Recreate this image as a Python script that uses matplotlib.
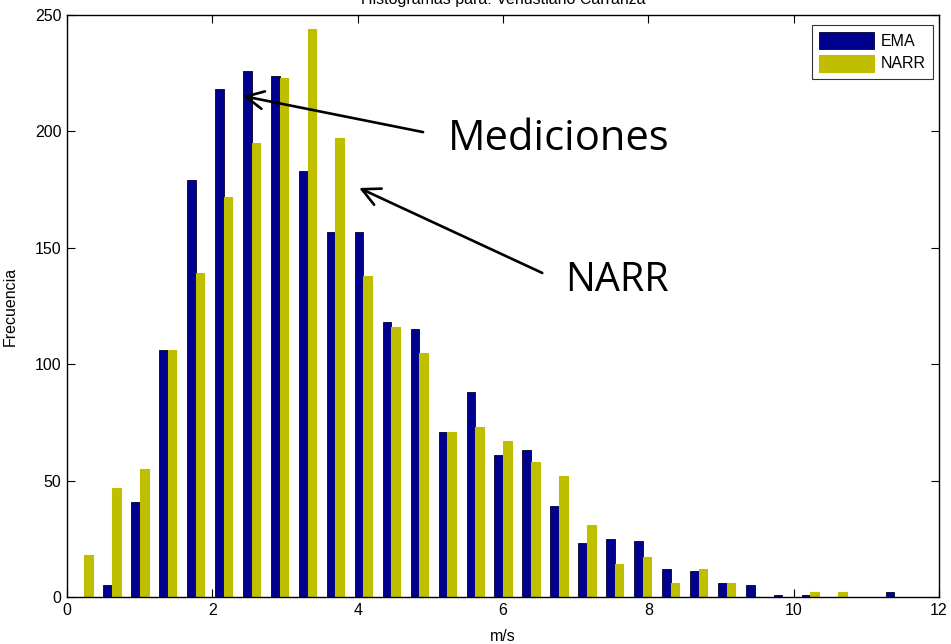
import matplotlib
matplotlib.use("Agg")
import matplotlib.pyplot as plt
import numpy as np

plt.rcParams['font.family'] = ['Liberation Sans', 'DejaVu Sans']

# Bin centres (m/s) of the 30-bin histogram
bin_centers = [0.234, 0.618, 1.003, 1.387, 1.772, 2.156, 2.541, 2.925, 3.310, 3.694,
               4.079, 4.463, 4.848, 5.232, 5.617, 6.001, 6.386, 6.770, 7.155, 7.539,
               7.924, 8.308, 8.693, 9.077, 9.462, 9.846, 10.231, 10.615, 11.000, 11.384]
ema = [0, 5, 41, 106, 179, 218, 226, 224, 183, 157,
       157, 118, 115, 71, 88, 61, 63, 39, 23, 25,
       24, 12, 11, 6, 5, 1, 1, 0, 0, 2]
narr = [18, 47, 55, 106, 139, 172, 195, 223, 244, 197,
        138, 116, 105, 71, 73, 67, 58, 52, 31, 14,
        17, 6, 12, 6, 0, 0, 2, 2, 0, 0]
series_names = ['EMA', 'NARR']
title = 'Histogramas para: Venustiano Carranza'
xlabel = 'm/s'
ylabel = 'Frecuencia'
xticks = [0, 2, 4, 6, 8, 10, 12]
yticks = [0, 50, 100, 150, 200, 250]

c_ema = '#00008F'
c_narr = '#BFBF00'

fig = plt.figure(figsize=(9.51, 6.44), dpi=100)
ax = fig.add_axes([67/951, 47/644, 872/951, 582/644])

x = np.array(bin_centers)
binw = x[1] - x[0]
bw = binw * 0.31
ax.bar(x - bw/2, ema, width=bw, color=c_ema, edgecolor='#000030', linewidth=0.6,
       label=series_names[0], zorder=2)
ax.bar(x + bw/2, narr, width=bw, color=c_narr, edgecolor=c_narr, linewidth=0.8,
       label=series_names[1], zorder=2)

ax.set_xlim(0, 12)
ax.set_ylim(0, 250)
ax.set_xticks(xticks)
ax.set_yticks(yticks)
ax.tick_params(direction='in', length=6, width=0.8, labelsize=11.5,
               top=True, right=True, pad=4, colors='black')
for s in ax.spines.values():
    s.set_linewidth(1.0)
    s.set_zorder(3)

ax.set_xlabel(xlabel, fontsize=11.5, labelpad=8)
ax.set_ylabel(ylabel, fontsize=11.5, labelpad=12)
fig.text(503/951, 1 - 4/644, title, ha='center', va='baseline', fontsize=11.5)

leg = ax.legend(loc='upper right', bbox_to_anchor=(0.9931, 0.9828),
                fontsize=11.5, frameon=True, fancybox=False,
                edgecolor='black', borderaxespad=0.0, handlelength=3.4,
                handleheight=1.25, labelspacing=0.35, borderpad=0.45,
                handletextpad=0.45)
leg.get_frame().set_linewidth(0.8)

arrow_kw = dict(arrowstyle='->', color='black', lw=1.9, mutation_scale=32,
                shrinkA=0, shrinkB=0)
ax.annotate('', xy=(2.42, 215.2), xytext=(4.90, 199.7), arrowprops=arrow_kw, zorder=4)
ax.annotate('', xy=(4.02, 175.7), xytext=(6.54, 139.2), arrowprops=arrow_kw, zorder=4)
ax.text(5.24, 192.0, 'Mediciones', fontsize=30, family=['Open Sans', 'DejaVu Sans'],
        va='baseline', ha='left', zorder=4)
ax.text(6.85, 131.6, 'NARR', fontsize=28.5, family=['Open Sans', 'DejaVu Sans'],
        va='baseline', ha='left', zorder=4)

fig.savefig('out.png', dpi=100)
